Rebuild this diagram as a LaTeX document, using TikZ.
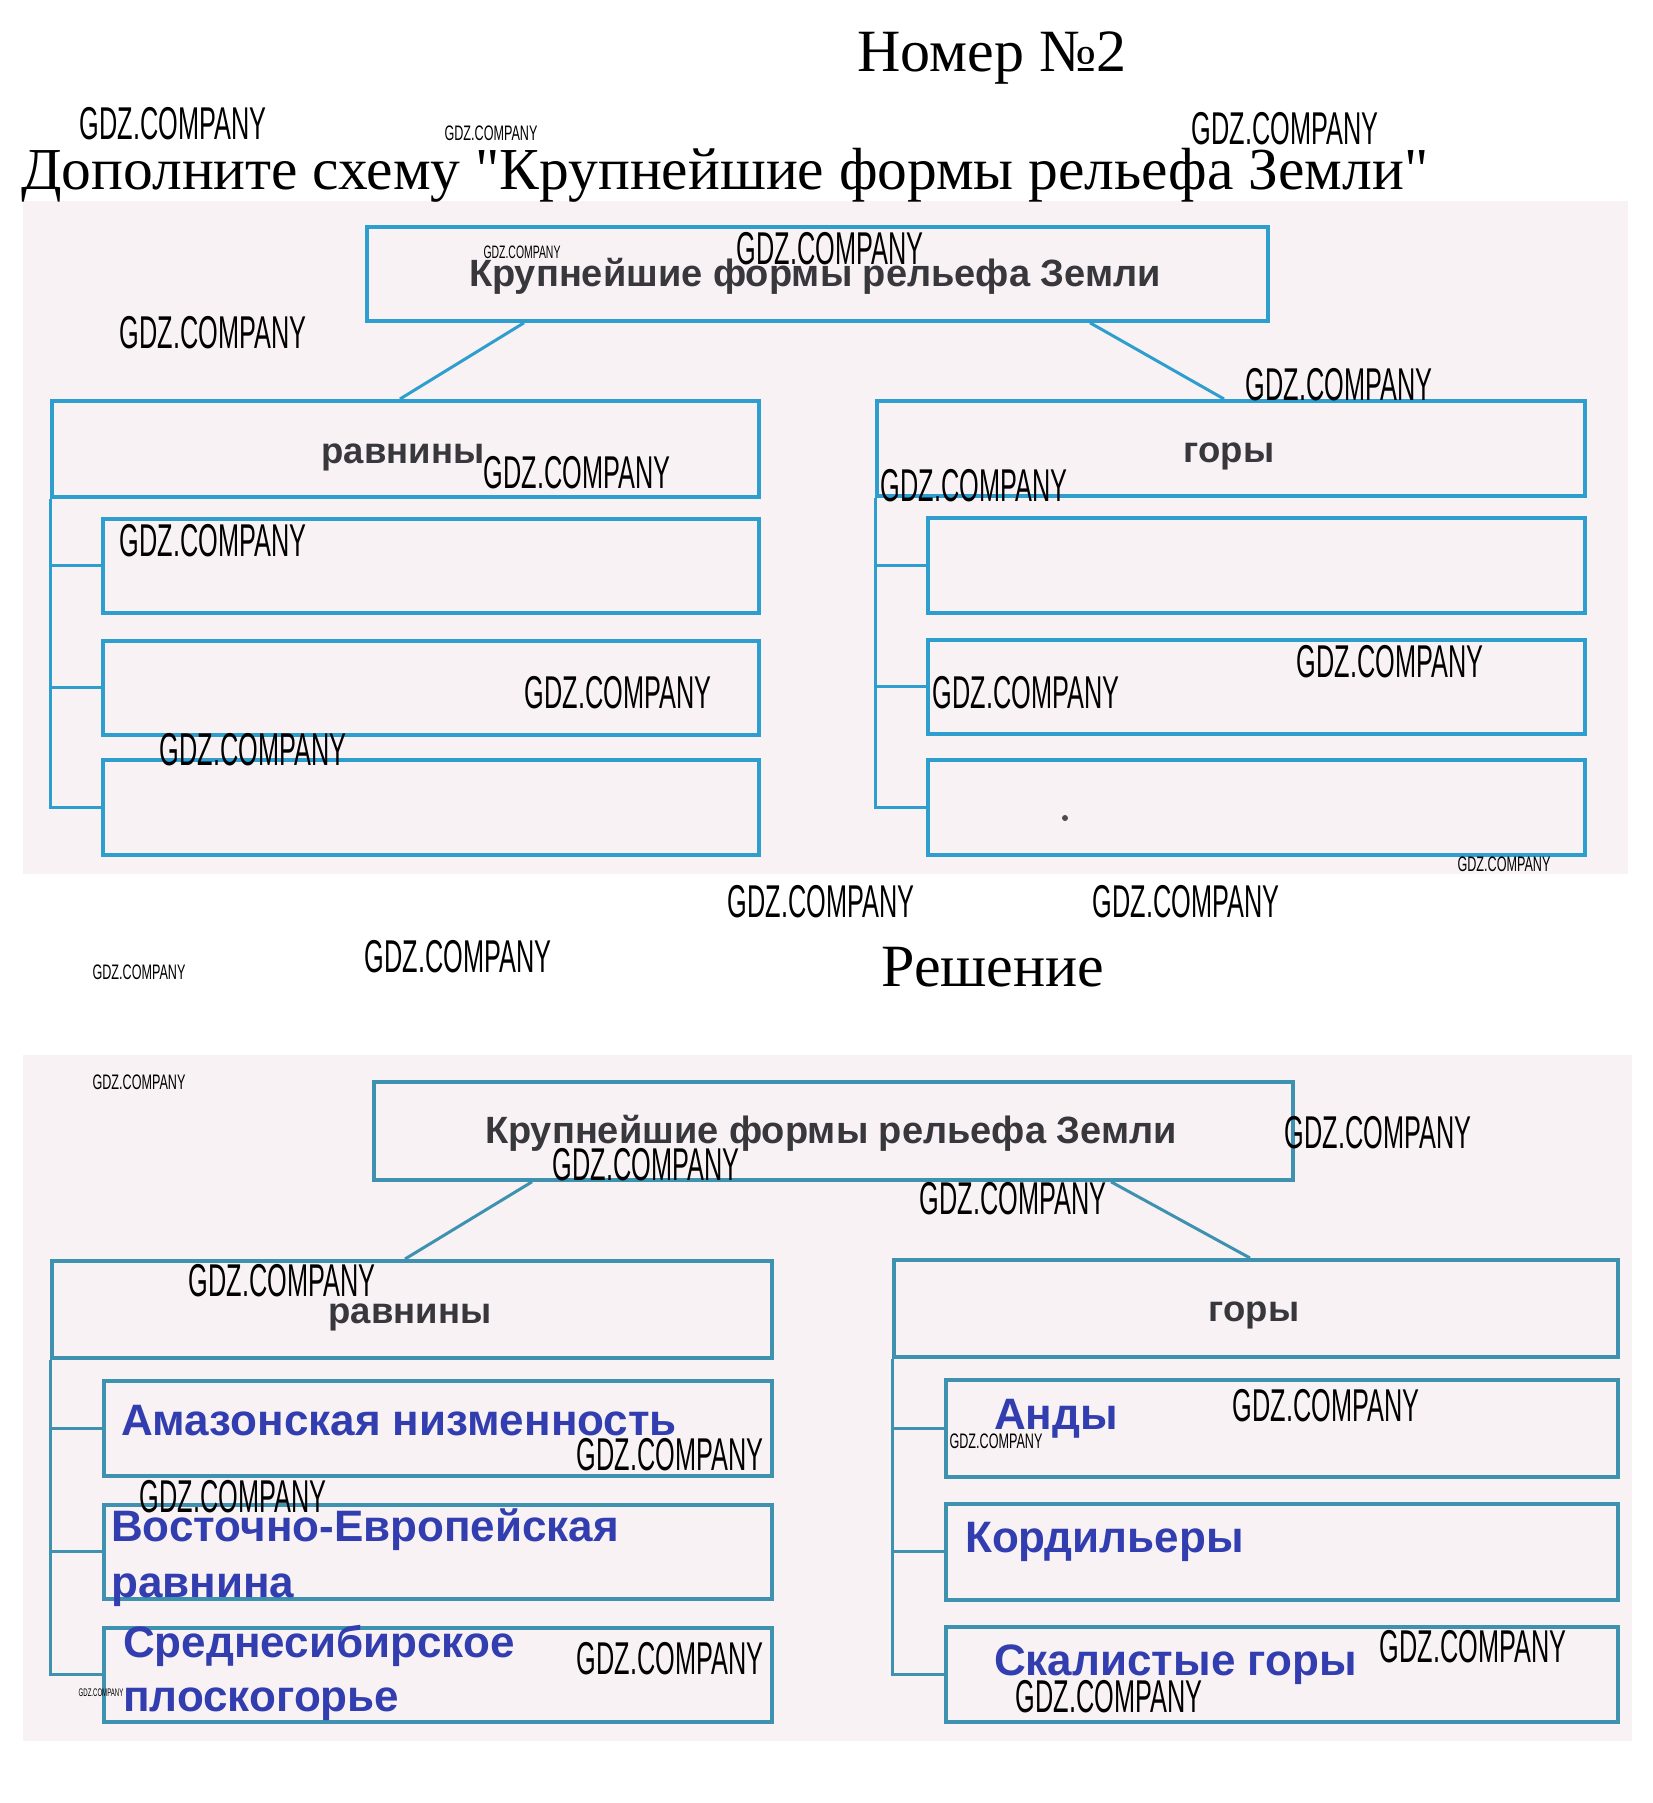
\documentclass[tikz,border=0pt]{standalone}
\usepackage{fontspec}
\setmainfont{Liberation Serif}
\newfontfamily\titlef{Liberation Serif}
\newfontfamily\sansf{Liberation Sans}
\usetikzlibrary{calc}

\definecolor{boxlineA}{RGB}{45,158,205}
\definecolor{boxlineB}{RGB}{62,146,175}
\definecolor{bgpink}{RGB}{248,242,245}
\definecolor{headtext}{RGB}{55,55,60}
\definecolor{answer}{RGB}{50,62,175}

\newcommand{\wmL}{\scalebox{0.55}[1]{\sansf\fontsize{46}{46}\selectfont GDZ.COMPANY}}
\newcommand{\wmS}{\scalebox{0.6}[1]{\sansf\fontsize{21}{21}\selectfont GDZ.COMPANY}}
\newcommand{\wmT}{\scalebox{0.55}[1]{\sansf\fontsize{11}{11}\selectfont GDZ.COMPANY}}

\tikzset{
  frame/.style={draw=boxlineA, line width=3.8pt, inner sep=0pt, anchor=north west},
  frameB/.style={frame, draw=boxlineB},
  conn/.style={draw=boxlineA, line width=3pt},
  connB/.style={conn, draw=boxlineB},
  head/.style={font=\sansf\bfseries\fontsize{38}{42}\selectfont, text=headtext, inner sep=0pt, anchor=base},
  sub/.style={font=\sansf\bfseries\fontsize{36.5}{40}\selectfont, text=headtext, inner sep=0pt, anchor=base},
  ans/.style={font=\sansf\bfseries\fontsize{44}{50}\selectfont, text=answer, inner sep=0pt, anchor=base west},
  ttl/.style={font=\titlef\fontsize{60}{66}\selectfont, text=black, inner sep=0pt},
  wm/.style={inner sep=0pt, anchor=center, text=black},
}

\begin{document}
\begin{tikzpicture}[x=1pt,y=-1pt]
\useasboundingbox (0,0) rectangle (1653,1803);
\fill[white] (0,0) rectangle (1653,1803);
\fill[bgpink] (23,201) rectangle (1628,874);
\fill[bgpink] (23,1055) rectangle (1632,1741);

% titles
\node[ttl, anchor=base] (t1) at (992,72) {Номер №2};
\node[ttl, anchor=base west, font=\titlef\fontsize{59.5}{66}\selectfont] (t2) at (21,190) {Дополните схему "Крупнейшие формы рельефа Земли"};
\node[ttl, anchor=base] (t3) at (993,986) {Решение};

% ---------- top diagram ----------
\node[frame, minimum width=901pt, minimum height=94pt] (top1) at (365,225) {};
\node[frame, minimum width=707pt, minimum height=96pt] (pl1) at (50,399) {};
\node[frame, minimum width=656pt, minimum height=94pt] (pl1a) at (101,517) {};
\node[frame, minimum width=656pt, minimum height=94pt] (pl1b) at (101,639) {};
\node[frame, minimum width=656pt, minimum height=95pt] (pl1c) at (101,758) {};
\node[frame, minimum width=708pt, minimum height=95pt] (mt1) at (875,399) {};
\node[frame, minimum width=657pt, minimum height=95pt] (mt1a) at (926,516) {};
\node[frame, minimum width=657pt, minimum height=94pt] (mt1b) at (926,638) {};
\node[frame, minimum width=657pt, minimum height=95pt] (mt1c) at (926,758) {};

\draw[conn] ([xshift=159pt]top1.south west) -- ([xshift=350pt]pl1.north west);
\draw[conn] ([xshift=725pt]top1.south west) -- ([xshift=349pt]mt1.north west);
\draw[conn] (pl1.south west) |- (pl1c.west);
\draw[conn] (pl1.west |- pl1a.west) -- (pl1a.west);
\draw[conn] (pl1.west |- pl1b.west) -- (pl1b.west);
\draw[conn] (mt1.south west) |- (mt1c.west);
\draw[conn] (mt1.west |- mt1a.west) -- (mt1a.west);
\draw[conn] (mt1.west |- mt1b.west) -- (mt1b.west);

\node[head] (h1) at (815,287) {Крупнейшие формы рельефа Земли};
\node[sub] (p1) at (403,463) {равнины};
\node[sub] (m1) at (1229,462) {горы};
\fill[black!70] (1065,818) circle (3pt);

% ---------- bottom diagram ----------
\node[frameB, minimum width=919pt, minimum height=98pt] (top2) at (372,1080) {};
\node[frameB, minimum width=720pt, minimum height=97pt] (pl2) at (50,1259) {};
\node[frameB, minimum width=668pt, minimum height=95pt] (pl2a) at (102,1379) {};
\node[frameB, minimum width=668pt, minimum height=94pt] (pl2b) at (102,1503) {};
\node[frameB, minimum width=668pt, minimum height=94pt] (pl2c) at (102,1626) {};
\node[frameB, minimum width=724pt, minimum height=97pt] (mt2) at (892,1258) {};
\node[frameB, minimum width=672pt, minimum height=97pt] (mt2a) at (944,1378) {};
\node[frameB, minimum width=672pt, minimum height=96pt] (mt2b) at (944,1502) {};
\node[frameB, minimum width=672pt, minimum height=95pt] (mt2c) at (944,1625) {};

\draw[connB] ([xshift=160pt]top2.south west) -- ([xshift=355pt]pl2.north west);
\draw[connB] ([xshift=739pt]top2.south west) -- ([xshift=358pt]mt2.north west);
\draw[connB] (pl2.south west) |- (pl2c.west);
\draw[connB] (pl2.west |- pl2a.west) -- (pl2a.west);
\draw[connB] (pl2.west |- pl2b.west) -- (pl2b.west);
\draw[connB] (mt2.south west) |- (mt2c.west);
\draw[connB] (mt2.west |- mt2a.west) -- (mt2a.west);
\draw[connB] (mt2.west |- mt2b.west) -- (mt2b.west);

\node[head] (h2) at (831,1143) {Крупнейшие формы рельефа Земли};
\node[sub] (p2) at (410,1323) {равнины};
\node[sub] (m2) at (1254,1321) {горы};

\node[ans] (a1) at (121,1435) {Амазонская низменность};
\node[ans] (a2) at (111,1541) {Восточно-Европейская};
\node[ans] (a3) at (111,1597) {равнина};
\node[ans] (a4) at (123,1657) {Среднесибирское};
\node[ans] (a5) at (123,1711) {плоскогорье};
\node[ans] (b1) at (994,1429) {Анды};
\node[ans] (b2) at (965,1552) {Кордильеры};
\node[ans] (b3) at (994,1675) {Скалистые горы};

% ---------- watermarks ----------
\node[wm] (w1) at (173,124) {\wmL};
\node[wm] (w2) at (491,133) {\wmS};
\node[wm] (w3) at (1285,129) {\wmL};
\node[wm] (w4) at (522,252) {\scalebox{0.58}[1]{\sansf\fontsize{18}{18}\selectfont GDZ.COMPANY}};
\node[wm] (w5) at (830,249) {\wmL};
\node[wm] (w6) at (213,333) {\wmL};
\node[wm] (w7) at (1339,385) {\wmL};
\node[wm] (w8) at (577,473) {\wmL};
\node[wm] (w9) at (974,486) {\wmL};
\node[wm] (w10) at (213,541) {\wmL};
\node[wm] (w11) at (1390,662) {\wmL};
\node[wm] (w12) at (618,693) {\wmL};
\node[wm] (w13) at (1026,693) {\wmL};
\node[wm] (w14) at (253,750) {\wmL};
\node[wm] (w15) at (1504,864) {\wmS};
\node[wm] (w16) at (821,902) {\wmL};
\node[wm] (w17) at (1186,902) {\wmL};
\node[wm] (w18) at (139,972) {\wmS};
\node[wm] (w19) at (458,957) {\wmL};
\node[wm] (w21) at (139,1082) {\wmS};
\node[wm] (w22) at (1378,1133) {\wmL};
\node[wm] (w23) at (646,1165) {\wmL};
\node[wm] (w24) at (1013,1199) {\wmL};
\node[wm] (w25) at (282,1281) {\wmL};
\node[wm] (w26) at (1326,1406) {\wmL};
\node[wm] (w27) at (996,1441) {\wmS};
\node[wm] (w28) at (670,1455) {\wmL};
\node[wm] (w29) at (233,1497) {\wmL};
\node[wm] (w30) at (1473,1647) {\wmL};
\node[wm] (w31) at (670,1659) {\wmL};
\node[wm] (w32) at (1109,1697) {\wmL};
\node[wm] (w33) at (101,1693) {\wmT};
\end{tikzpicture}
\end{document}
